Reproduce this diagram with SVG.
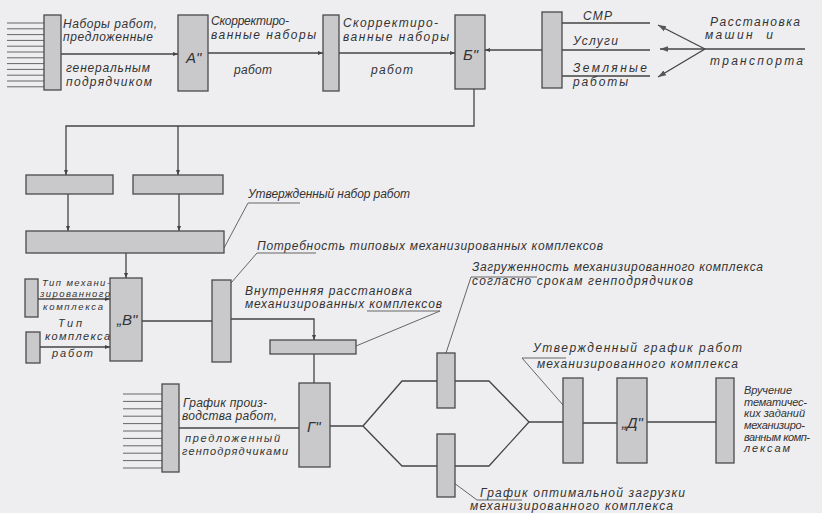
<svg xmlns="http://www.w3.org/2000/svg" width="822" height="513" viewBox="0 0 822 513">
<defs>
<marker id="ar" viewBox="0 0 10 10" refX="10" refY="5" markerWidth="5" markerHeight="5" orient="auto-start-reverse" markerUnits="userSpaceOnUse"><path d="M0,1 L10,5 L0,9 z" fill="#444"/></marker>
<marker id="arL" viewBox="0 0 10 10" refX="10" refY="5" markerWidth="8" markerHeight="8" orient="auto-start-reverse" markerUnits="userSpaceOnUse"><path d="M0,1.5 L10,5 L0,8.5 z" fill="#555"/></marker>
</defs>
<style>
.bx{fill:#c9c9cc;stroke:#4a4a4a;stroke-width:1.3}
.ln{fill:none;stroke:#444;stroke-width:1.3}
.tn{fill:none;stroke:#666;stroke-width:1}
.t{font-family:"Liberation Sans",Arial,sans-serif;font-style:italic;font-size:12px;fill:#333}
.s{font-size:11px}
.xs{font-size:9.5px}
.lb{font-family:"Liberation Sans",Arial,sans-serif;font-style:italic;font-size:15px;fill:#333}
</style>
<rect width="822" height="513" fill="#eeeef1"/>

<g id="connectors">
<g class="tn">
<path d="M7,23H44M7,28.8H44M7,34.6H44M7,40.4H44M7,46.2H44M7,52H44M7,57.8H44M7,63.6H44M7,69.4H44M7,75.2H44M7,81H44M7,86.8H44"/>
<path d="M123,394H162M123,401.4H162M123,408.8H162M123,416.2H162M123,423.6H162M123,431H162M123,438.4H162M123,445.8H162M123,453.2H162M123,460.6H162M123,468H162"/>
</g>
<path class="ln" d="M61,54H178" marker-end="url(#ar)"/>
<path class="ln" d="M208,53H323" marker-end="url(#ar)"/>
<path class="ln" d="M339,53H455" marker-end="url(#ar)"/>
<path class="ln" d="M542,50H485" marker-end="url(#ar)"/>
<path class="ln" d="M562,23H650M562,50H650M562,76H650"/>
<path class="ln" d="M705,49H805"/>
<path class="ln" d="M705,49L658,25" marker-end="url(#arL)"/>
<path class="ln" d="M705,49L658,77" marker-end="url(#arL)"/>
<path class="ln" d="M705,49H660" marker-end="url(#arL)"/>
<path class="ln" d="M474,89V126H66V175" marker-end="url(#ar)"/>
<path class="ln" d="M178,126V175" marker-end="url(#ar)"/>
<path class="ln" d="M68,194V231" marker-end="url(#ar)"/>
<path class="ln" d="M179,194V231" marker-end="url(#ar)"/>
<path class="ln" d="M126,253V278" marker-end="url(#ar)"/>
<path class="ln" d="M38,299H110" marker-end="url(#ar)"/>
<path class="ln" d="M40,347H110" marker-end="url(#ar)"/>
<path class="ln" d="M142,321H212"/>
<path class="ln" d="M231,319H314V340" marker-end="url(#ar)"/>
<path class="ln" d="M314,354V383"/>
<path class="ln" d="M179,428H299"/>
<path class="ln" d="M330,426H363L402,381H489L529,422L489,466H402L363,426"/>
<path class="ln" d="M529,422H563"/>
<path class="ln" d="M583,423H617"/>
<path class="ln" d="M647,422H716"/>
<g class="tn">
<path d="M224,248L248,203"/>
<path d="M248,203H300"/>
<path d="M231,283L257,253H316"/>
<path d="M356,346L440,311H367"/>
<path d="M446,353L471,277H537"/>
<path d="M563,405L522,358H566"/>
<path d="M446,477L477,500H522"/>
</g>
</g>

<g id="n-input1"><rect class="bx" x="44" y="15" width="17" height="75"/></g>
<g id="n-a"><rect class="bx" x="178" y="15" width="30" height="76"/><text class="lb" x="186" y="63">А"</text></g>
<g id="n-c2"><rect class="bx" x="323" y="15" width="16" height="76"/></g>
<g id="n-b"><rect class="bx" x="455" y="15" width="30" height="74"/><text class="lb" x="463" y="60">Б"</text></g>
<g id="n-res"><rect class="bx" x="542" y="12" width="20" height="76"/></g>
<g id="n-r2a"><rect class="bx" x="26" y="175" width="87" height="19"/></g>
<g id="n-r2b"><rect class="bx" x="133" y="175" width="90" height="19"/></g>
<g id="n-big"><rect class="bx" x="26" y="231" width="198" height="22"/></g>
<g id="n-v"><rect class="bx" x="110" y="278" width="32" height="83"/><text class="lb" x="117" y="325">„В"</text></g>
<g id="n-tip1"><rect class="bx" x="25" y="279" width="13" height="38"/></g>
<g id="n-tip2"><rect class="bx" x="26" y="332" width="14" height="31"/></g>
<g id="n-need"><rect class="bx" x="212" y="280" width="19" height="82"/></g>
<g id="n-inner"><rect class="bx" x="270" y="340" width="86" height="14"/></g>
<g id="n-input2"><rect class="bx" x="162" y="384" width="17" height="88"/></g>
<g id="n-g"><rect class="bx" x="299" y="383" width="31" height="84"/><text class="lb" x="307" y="432">Г"</text></g>
<g id="n-load"><rect class="bx" x="437" y="353" width="18" height="55"/></g>
<g id="n-opt"><rect class="bx" x="437" y="434" width="18" height="63"/></g>
<g id="n-sched"><rect class="bx" x="563" y="378" width="20" height="85"/></g>
<g id="n-d"><rect class="bx" x="617" y="378" width="30" height="85"/><text class="lb" x="622" y="428">„Д"</text></g>
<g id="n-final"><rect class="bx" x="716" y="378" width="18" height="85"/></g>

<g id="labels">
<text class="t" x="63" y="28" textLength="94">Наборы работ,</text>
<text class="t" x="63" y="41" textLength="90">предложенные</text>
<text class="t" x="66" y="72" textLength="84">генеральным</text>
<text class="t" x="66" y="86" textLength="86">подрядчиком</text>
<text class="t" x="211" y="25" textLength="78">Скорректиро-</text>
<text class="t" x="211" y="39" textLength="105">ванные наборы</text>
<text class="t" x="234" y="74" textLength="38">работ</text>
<text class="t" x="343" y="27" textLength="95">Скорректиро-</text>
<text class="t" x="343" y="41" textLength="106">ванные наборы</text>
<text class="t" x="371" y="74" textLength="42">работ</text>
<text class="t" x="583" y="20" textLength="29">СМР</text>
<text class="t" x="573" y="45" textLength="45">Услуги</text>
<text class="t" x="573" y="72" textLength="74">Земляные</text>
<text class="t" x="573" y="86" textLength="55">работы</text>
<text class="t" x="710" y="26" textLength="90">Расстановка</text>
<text class="t" x="705" y="39" textLength="68" xml:space="preserve">машин  и</text>
<text class="t" x="710" y="65" textLength="93">транспорта</text>
<text class="t" x="248" y="198" textLength="162">Утвержденный набор работ</text>
<text class="t" x="257" y="250" textLength="346">Потребность типовых механизированных комплексов</text>
<text class="t" x="472" y="271" textLength="291">Загруженность механизированного комплекса</text>
<text class="t" x="472" y="285" textLength="221">согласно срокам генподрядчиков</text>
<text class="t" x="245" y="295" textLength="167">Внутренняя расстановка</text>
<text class="t" x="245" y="308" textLength="197">механизированных комплексов</text>
<text class="t xs" x="42" y="286" textLength="68">Тип механи-</text>
<text class="t xs" x="40" y="297" textLength="70">зированного</text>
<text class="t xs" x="43" y="310" textLength="60">комплекса</text>
<text class="t s" x="58" y="327" textLength="24">Тип</text>
<text class="t s" x="45" y="340" textLength="65">комплекса</text>
<text class="t s" x="52" y="357" textLength="41">работ</text>
<text class="t" x="183" y="407" textLength="84">График произ-</text>
<text class="t" x="182" y="420" textLength="95">водства работ,</text>
<text class="t s" x="185" y="442" textLength="95">предложенный</text>
<text class="t s" x="182" y="455" textLength="106">генподрядчиками</text>
<text class="t" x="533" y="352" textLength="209">Утвержденный график работ</text>
<text class="t" x="537" y="368" textLength="201">механизированного комплекса</text>
<text class="t s" x="744" y="394" textLength="48">Вручение</text>
<text class="t s" x="744" y="406" textLength="63">тематичес-</text>
<text class="t s" x="744" y="417" textLength="61">ких заданий</text>
<text class="t s" x="744" y="429" textLength="61">механизиро-</text>
<text class="t s" x="744" y="441" textLength="66">ванным комп-</text>
<text class="t s" x="744" y="452" textLength="46">лексам</text>
<text class="t" x="480" y="497" textLength="205">График оптимальной загрузки</text>
<text class="t" x="470" y="510" textLength="203">механизированного комплекса</text>
</g>
</svg>
